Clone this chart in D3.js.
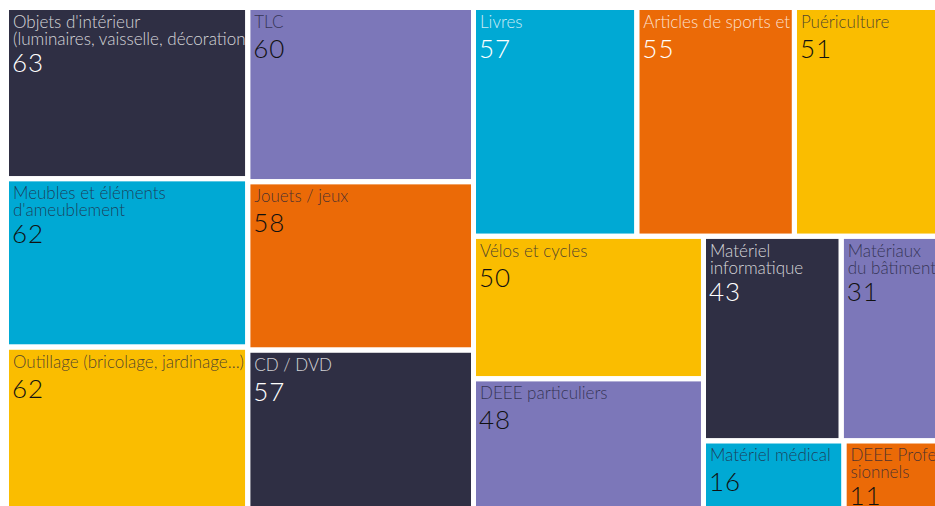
<!DOCTYPE html>
<html><head><meta charset="utf-8">
<script src="https://cdn.jsdelivr.net/npm/d3@7"></script>
<style>body{margin:0;background:#fff;overflow:hidden} svg{display:block}</style>
</head><body><svg id="chart" width="935" height="506"></svg>
<script>
// ---- data ----
const categories = [
  "Objets d'intérieur\n(luminaires, vaisselle, décoration...)",
  "Meubles et éléments\nd'ameublement",
  "Outillage (bricolage, jardinage...)",
  "TLC",
  "Jouets / jeux",
  "CD / DVD",
  "Livres",
  "Articles de sports et loisirs",
  "Puériculture",
  "Vélos et cycles",
  "DEEE particuliers",
  "Matériel\ninformatique",
  "Matériaux\ndu bâtiment",
  "Matériel médical",
  "DEEE Profes-\nsionnels"
];
const values = [63, 62, 62, 60, 58, 57, 57, 55, 51, 50, 48, 43, 31, 16, 11];

// ---- styles ----
const palette = {navy:"#2f2f44", purple:"#7c77b9", cyan:"#00a9d4", orange:"#eb6a07", yellow:"#fabd00"};
const tileColors = ["navy","cyan","yellow","purple","orange","navy","cyan","orange","yellow","yellow","purple","navy","purple","cyan","orange"];
const lightText = [true,false,false,false,false,true,true,true,false,false,false,true,false,false,false];

const svg = d3.select("#chart");
const root = d3.hierarchy({children: categories.map((c,i)=>({name:c, value:values[i], idx:i}))})
  .sum(d => d.value || 0);

d3.treemap()
  .tile(d3.treemapSquarify)
  .size([934, 508])
  .round(false)(root);

const plot = svg.append("g").attr("transform", "translate(6.5,7.5)");
const inset = 2.5;
const leaves = root.leaves();
const defs = svg.append("defs");
leaves.forEach((d,i) => {
  defs.append("clipPath").attr("id","clip"+i)
    .append("rect")
    .attr("x", d.x0+inset).attr("y", d.y0+inset)
    .attr("width", Math.max(0, d.x1-d.x0-2*inset))
    .attr("height", Math.max(0, d.y1-d.y0-2*inset));
});

const g = plot.selectAll("g.tile").data(leaves).join("g").attr("class","tile")
  .attr("clip-path", (d,i) => "url(#clip"+i+")");

g.append("rect")
  .attr("x", d => d.x0+inset).attr("y", d => d.y0+inset)
  .attr("width", d => Math.max(0, d.x1-d.x0-2*inset))
  .attr("height", d => Math.max(0, d.y1-d.y0-2*inset))
  .attr("fill", d => palette[tileColors[d.data.idx]]);

g.each(function(d){
  const sel = d3.select(this);
  const light = lightText[d.data.idx];
  const lines = d.data.name.split("\n");
  const tx = d.x0 + inset + 4;
  const ty = d.y0 + inset + 18;
  const label = sel.append("text")
    .attr("x", tx).attr("y", ty)
    .attr("font-family", "Lato, 'Open Sans', sans-serif")
    .attr("font-weight", 300)
    .attr("font-size", 17)
    .attr("fill", light ? "#ffffff" : "#23233a")
    .attr("fill-opacity", 0.8);
  lines.forEach((l,k) => {
    label.append("tspan").attr("x", tx).attr("y", ty + k*17).text(l);
  });
  const numOffset = lines.length > 1 ? 27 : 30;
  sel.append("text")
    .attr("x", tx - 1).attr("y", ty + (lines.length-1)*17 + numOffset)
    .attr("font-family", "Lato, 'Open Sans', sans-serif")
    .attr("font-weight", 300)
    .attr("font-size", 26)
    .attr("letter-spacing", 1)
    .attr("fill", light ? "#ffffff" : "#111111")
    .text(d.data.value);
});
</script>
</body></html>
